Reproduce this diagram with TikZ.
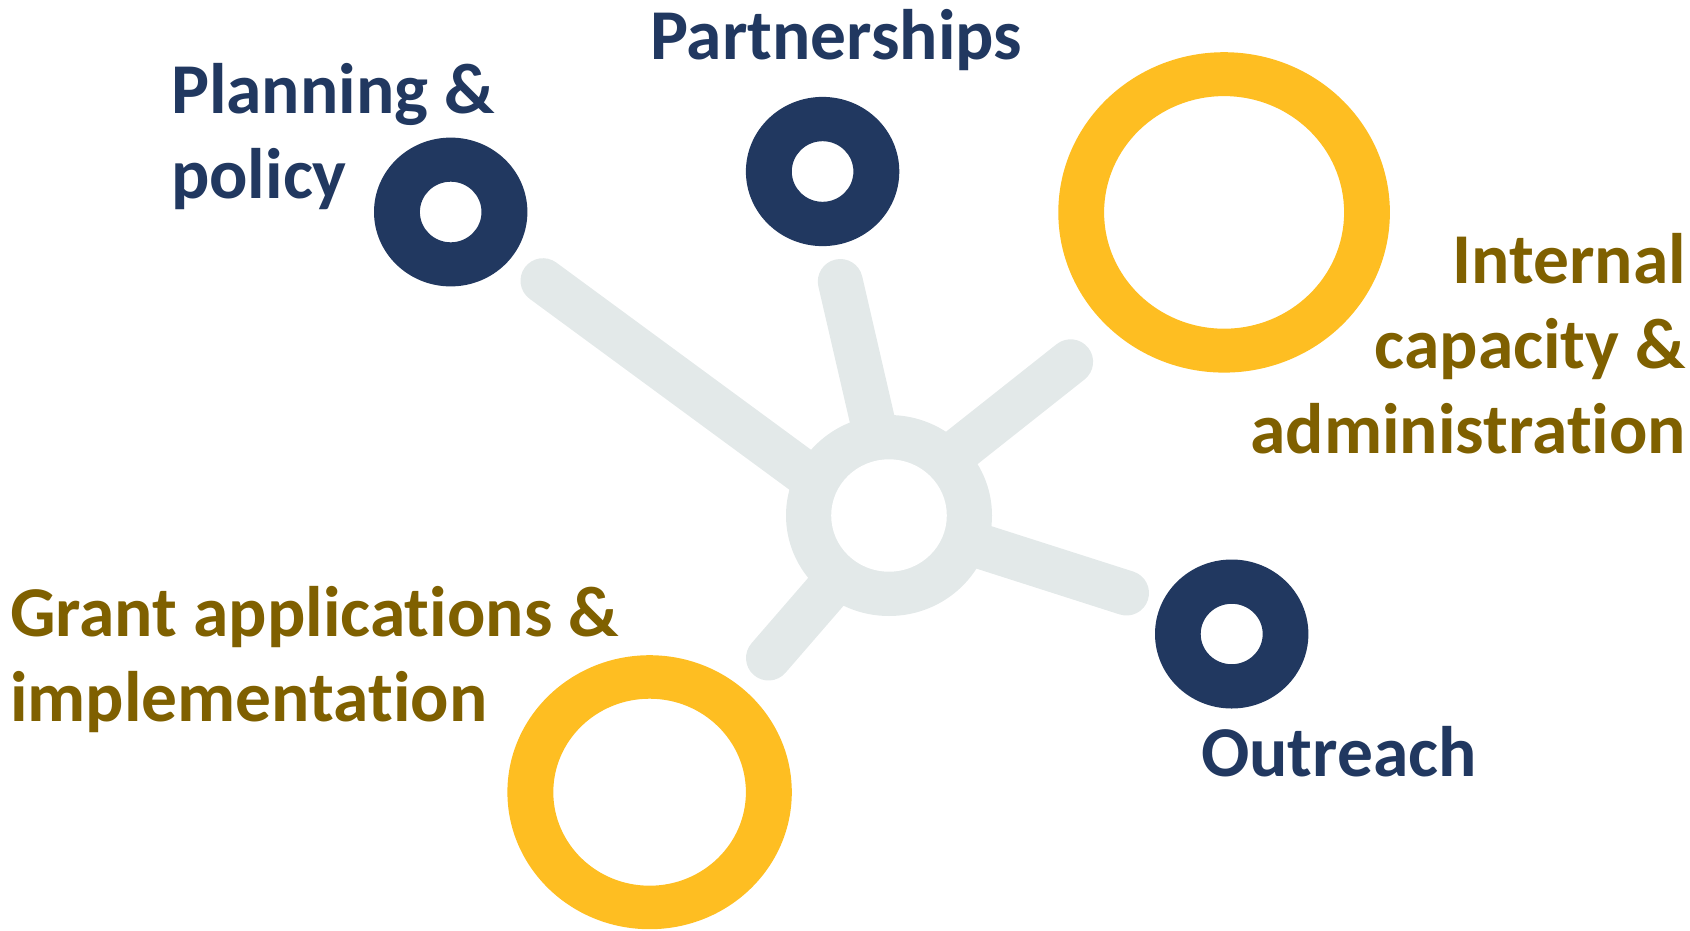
\documentclass[tikz,border=0pt]{standalone}
\usepackage{fontspec}
\setmainfont{Carlito}[Ligatures=NoCommon]
\definecolor{navy}{HTML}{213860}
\definecolor{ringgold}{HTML}{FEBE22}
\definecolor{olivetext}{HTML}{7F6000}
\definecolor{spokegray}{HTML}{E3E9E9}
\begin{document}
\begin{tikzpicture}[x=1pt,y=-1pt,
  spoke/.style={draw=spokegray, line width=45pt, line cap=round},
  lbl/.style={font=\fontsize{71.5}{85}\selectfont\bfseries, inner sep=0pt, outer sep=0pt}]
\useasboundingbox (0,0) rectangle (1690,930);

% centres
\coordinate (hub) at (889,515.5);
\coordinate (planning) at (450.7,212);
\coordinate (partner) at (822.6,171.5);
\coordinate (internal) at (1224.1,212.4);
\coordinate (outreach) at (1231.7,634);
\coordinate (grant) at (649.6,792.2);

% spoke ends and inner points
\coordinate (e1) at (543,280.7);   \coordinate (i1) at (889,535);
\coordinate (e2) at (840.3,281.5); \coordinate (i2) at (894.4,515.5);
\coordinate (e3) at (1070.6,361.8);\coordinate (i3) at (889,505.5);
\coordinate (e4) at (1126.5,593);  \coordinate (i4) at (889,517);
\coordinate (e5) at (768.5,658);   \coordinate (i5) at (892,515.5);

\draw[spoke] (e1) -- (i1);
\draw[spoke] (e2) -- (i2);
\draw[spoke] (e3) -- (i3);
\draw[spoke] (e4) -- (i4);
\draw[spoke] (e5) -- (i5);

% hub ring
\fill[spokegray] (hub) ellipse [x radius=103, y radius=100.5];
\fill[white] (hub) ellipse [x radius=57.8, y radius=56.2];

% rings
\fill[navy, even odd rule] (planning) ellipse [x radius=76.7, y radius=74.4] (planning) ellipse [x radius=30.8, y radius=30.3];
\fill[navy, even odd rule] (partner) ellipse [x radius=76.7, y radius=74.6] (partner) ellipse [x radius=30.8, y radius=30.3];
\fill[navy, even odd rule] (outreach) ellipse [x radius=76.7, y radius=74.5] (outreach) ellipse [x radius=31, y radius=30.2];
\fill[ringgold, even odd rule] (internal) ellipse [x radius=165.8, y radius=160.2] (internal) ellipse [x radius=120, y radius=116.3];
\fill[ringgold, even odd rule] (grant) ellipse [x radius=142.2, y radius=137] (grant) ellipse [x radius=96.3, y radius=93.5];

% labels (base anchor = baseline of the last line)
\node[lbl, text=navy, align=left, anchor=base west] (tplanning) at (171,198.3) {Planning \&\\policy};
\node[lbl, text=navy, anchor=base west] (tpartner) at (650,59.5) {Partnerships};
\node[lbl, text=olivetext, align=right, anchor=base east] (tinternal) at (1686,453.3) {Internal\\capacity \&\\administration};
\node[lbl, text=olivetext, align=left, anchor=base west] (tgrant) at (10,721.7) {Grant applications \&\\implementation};
\node[lbl, text=navy, anchor=base west] (toutreach) at (1201,776) {Outreach};
\end{tikzpicture}
\end{document}
